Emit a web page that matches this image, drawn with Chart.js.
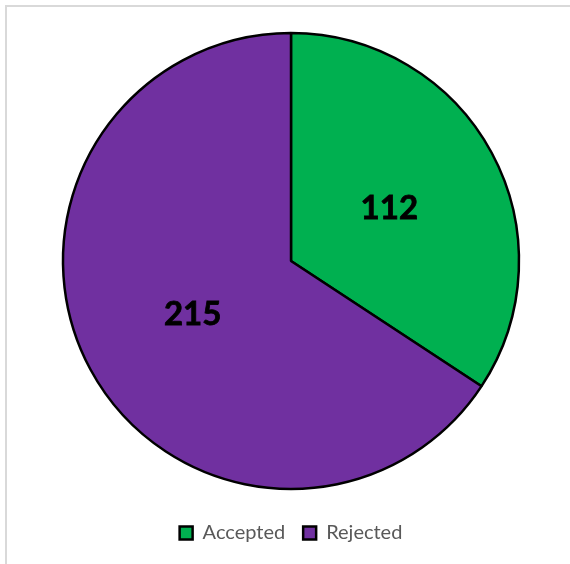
<!DOCTYPE html>
<html>
<head>
<meta charset="utf-8">
<script src="https://cdn.jsdelivr.net/npm/chart.js@4.4.1/dist/chart.umd.min.js"></script>
<style>
    html, body { margin: 0; padding: 0; background: #ffffff; overflow: hidden; }
    #frame {
        position: absolute; left: 5px; top: 5px; width: 700px; height: 700px;
        border-top: 2px solid #d9d9d9; border-left: 2px solid #d9d9d9;
    }
    #wrap { position: absolute; left: 0; top: 0; width: 570px; height: 564px; }
</style>
</head>
<body>
<div id="frame"></div>
<div id="wrap"><canvas id="pieChart" width="570" height="564"></canvas></div>
<script>
// Chart data
const categories = ['Accepted', 'Rejected'];
const counts = [112, 215];
const sliceColors = ['#00B050', '#7030A0'];

// Draw the value in each slice
const sliceLabels = {
    id: 'sliceLabels',
    afterDatasetsDraw(chart) {
        const ctx = chart.ctx;
        const meta = chart.getDatasetMeta(0);
        ctx.save();
        ctx.font = 'bold 33px Lato, "Open Sans", sans-serif';
        ctx.fillStyle = '#000000';
        ctx.strokeStyle = '#000000';
        ctx.lineWidth = 0.8;
        ctx.textAlign = 'center';
        ctx.textBaseline = 'middle';
        meta.data.forEach((arc, i) => {
            const p = arc.getProps(['x', 'y', 'startAngle', 'endAngle', 'outerRadius'], true);
            const mid = (p.startAngle + p.endAngle) / 2;
            const d = p.outerRadius * 0.49;
            const tx = p.x + Math.cos(mid) * d;
            const ty = p.y + Math.sin(mid) * d;
            ctx.fillText(String(counts[i]), tx, ty);
            ctx.strokeText(String(counts[i]), tx, ty);
        });
        ctx.restore();
    }
};

const ctx = document.getElementById('pieChart');
new Chart(ctx, {
    type: 'pie',
    data: {
        labels: categories,
        datasets: [{
            data: counts,
            backgroundColor: sliceColors,
            borderColor: '#000000',
            borderWidth: 2.5,
            radius: 228
        }]
    },
    options: {
        responsive: false,
        animation: false,
        layout: {
            padding: { top: 17, bottom: 11, left: 12, right: 0 }
        },
        plugins: {
            tooltip: { enabled: false },
            legend: {
                position: 'bottom',
                labels: {
                    boxWidth: 13,
                    boxHeight: 13,
                    padding: 18,
                    color: '#595959',
                    font: { family: 'Lato, "Open Sans", sans-serif', size: 20 }
                }
            }
        }
    },
    plugins: [sliceLabels]
});
</script>
</body>
</html>
